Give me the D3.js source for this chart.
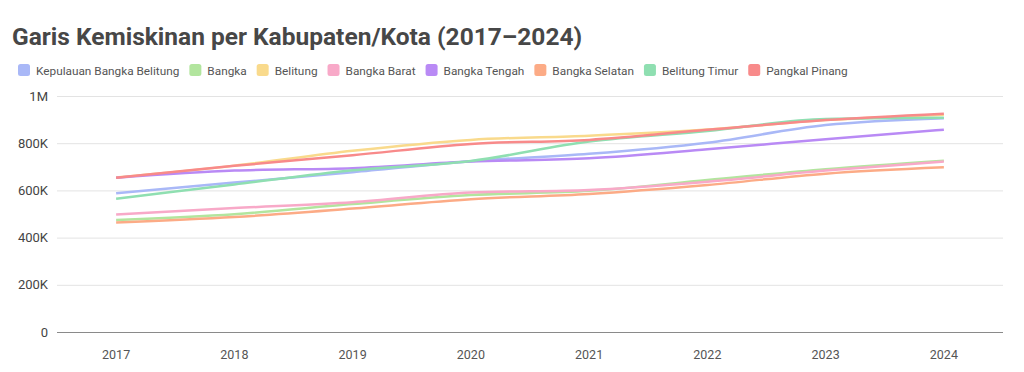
<!DOCTYPE html>
<html>
<head>
<meta charset="utf-8">
<script src="https://cdn.jsdelivr.net/npm/d3@7"></script>
<style>
  body { margin: 0; background: #fff; }
  svg { display: block; font-family: Roboto, "Noto Sans", sans-serif; }
</style>
</head>
<body>
<svg id="chart" width="1024" height="372"></svg>
<script>
// tahun
var years = ["2017", "2018", "2019", "2020", "2021", "2022", "2023", "2024"];

var seriesNames = [
  "Kepulauan Bangka Belitung", "Bangka", "Belitung", "Bangka Barat",
  "Bangka Tengah", "Bangka Selatan", "Belitung Timur", "Pangkal Pinang"
];

var seriesColors = [
  "#a9b8f7", "#b2e59e", "#f9da8c", "#f8a9c8",
  "#b98af5", "#fcab86", "#8fdfb1", "#f88a8a"
];

// nilai garis kemiskinan (Rp)
var kepBabel      = [588000, 633000, 677000, 724000, 755000, 802000, 877000, 906000];
var bangka        = [475000, 499000, 542000, 580000, 598000, 644000, 690000, 726000];
var belitung      = [655000, 705000, 768000, 814000, 832000, 858000, 898000, 921000];
var bangkaBarat   = [498000, 525000, 550000, 591000, 602000, 637000, 684000, 722000];
var bangkaTengah  = [654000, 684000, 694000, 722000, 736000, 774000, 817000, 857000];
var bangkaSelatan = [464000, 487000, 523000, 563000, 585000, 623000, 671000, 698000];
var belitungTimur = [565000, 625000, 685000, 725000, 807000, 852000, 903000, 908000];
var pangkalPinang = [654000, 704000, 749000, 797000, 814000, 857000, 898000, 925000];

var yTicks = [0, 200000, 400000, 600000, 800000, 1000000];
var yTickLabels = ["0", "200K", "400K", "600K", "800K", "1M"];

var allValues = [kepBabel, bangka, belitung, bangkaBarat, bangkaTengah, bangkaSelatan, belitungTimur, pangkalPinang];

var svg = d3.select("#chart");

var margin = {left: 57, right: 21, top: 96, bottom: 40};
var W = +svg.attr("width"), H = +svg.attr("height");

var x = d3.scalePoint().domain(years).range([margin.left, W - margin.right]).padding(0.5);
var y = d3.scaleLinear().domain([0, 1000000]).range([332, 96]);

// judul
svg.append("text")
  .attr("x", 12).attr("y", 45)
  .attr("font-size", 24.5).attr("font-weight", 700)
  .attr("fill", "#474747")
  .text("Garis Kemiskinan per Kabupaten/Kota (2017–2024)");

// legenda
var lx = 18;
seriesNames.forEach(function (name, i) {
  var g = svg.append("g").attr("transform", "translate(" + lx + ",64)");
  g.append("rect").attr("width", 12).attr("height", 12).attr("rx", 2.5)
    .attr("fill", seriesColors[i]);
  var t = g.append("text").attr("x", 18).attr("y", 10.5)
    .attr("font-size", 11.8).attr("fill", "#555")
    .text(name);
  lx += 18 + t.node().getComputedTextLength() + 10;
});

// grid
svg.append("g").selectAll("line")
  .data(yTicks.slice(1))
  .enter().append("line")
  .attr("x1", margin.left).attr("x2", W - margin.right)
  .attr("y1", function (d) { return y(d) + 0.5; })
  .attr("y2", function (d) { return y(d) + 0.5; })
  .attr("stroke", "#e3e3e3").attr("stroke-width", 1);

// sumbu y
svg.append("g").selectAll("text")
  .data(yTicks)
  .enter().append("text")
  .attr("x", 48).attr("y", function (d) { return y(d) + 4.5; })
  .attr("text-anchor", "end").attr("font-size", 13).attr("fill", "#444")
  .text(function (d, i) { return yTickLabels[i]; });

// sumbu x
svg.append("line")
  .attr("x1", margin.left).attr("x2", W - margin.right)
  .attr("y1", y(0) + 0.5).attr("y2", y(0) + 0.5)
  .attr("stroke", "#8a8a8a").attr("stroke-width", 1);

svg.append("g").selectAll("text")
  .data(years)
  .enter().append("text")
  .attr("x", function (d) { return x(d); }).attr("y", 359)
  .attr("text-anchor", "middle").attr("font-size", 12.5).attr("fill", "#555")
  .text(function (d) { return d; });

// garis
var line = d3.line()
  .x(function (d, i) { return x(years[i]); })
  .y(function (d) { return y(d); })
  .curve(d3.curveMonotoneX);

svg.append("g").selectAll("path")
  .data(allValues)
  .enter().append("path")
  .attr("d", line)
  .attr("fill", "none")
  .attr("stroke", function (d, i) { return seriesColors[i]; })
  .attr("stroke-width", 2.5)
  .attr("stroke-linejoin", "round");
</script>
</body>
</html>
